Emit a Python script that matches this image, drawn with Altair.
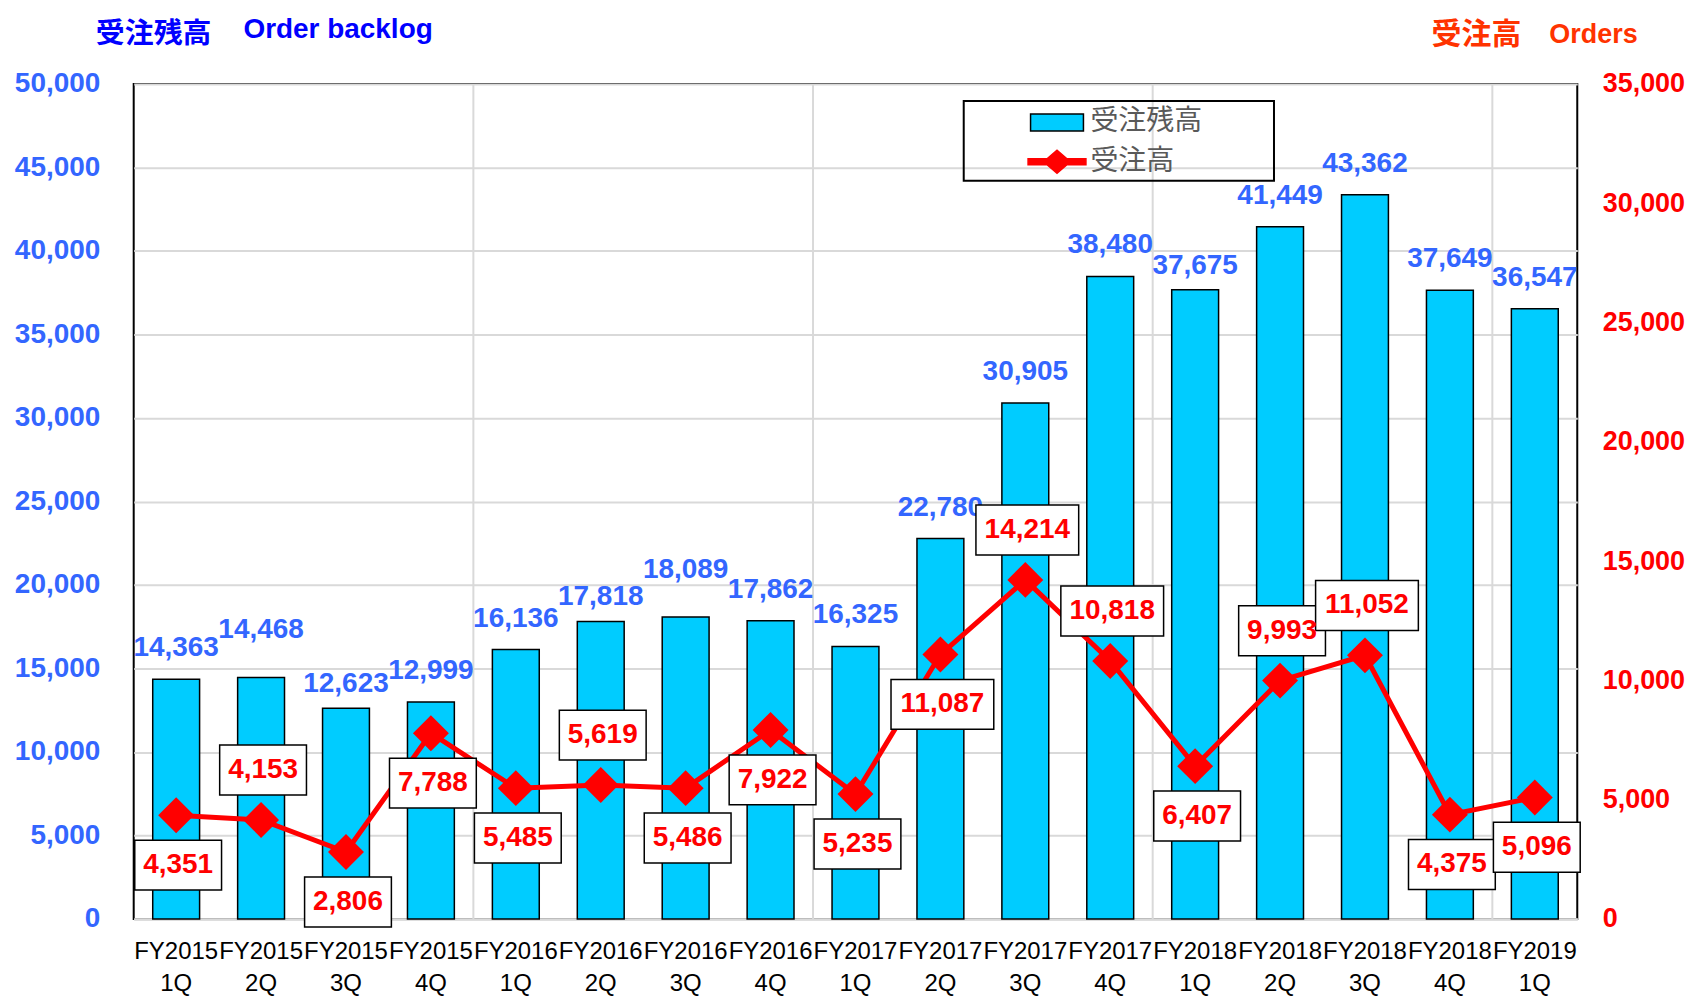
import altair as alt
import pandas as pd

# ---------------- data ----------------
categories = ["FY2015 1Q", "FY2015 2Q", "FY2015 3Q", "FY2015 4Q",
              "FY2016 1Q", "FY2016 2Q", "FY2016 3Q", "FY2016 4Q",
              "FY2017 1Q", "FY2017 2Q", "FY2017 3Q", "FY2017 4Q",
              "FY2018 1Q", "FY2018 2Q", "FY2018 3Q", "FY2018 4Q",
              "FY2019 1Q"]
backlog = [14363, 14468, 12623, 12999, 16136, 17818, 18089, 17862, 16325,
           22780, 30905, 38480, 37675, 41449, 43362, 37649, 36547]
orders = [4351, 4153, 2806, 7788, 5485, 5619, 5486, 7922, 5235,
          11087, 14214, 10818, 6407, 9993, 11052, 4375, 5096]
# label placement choices (layout, not data)
order_label_side = ["below", "above", "below", "below", "below", "above",
                    "below", "below", "below", "below", "above", "above",
                    "below", "above", "above", "below", "below"]
backlog_label_raised = ["FY2015 2Q", "FY2016 3Q"]
backlog_label_lowered = ["FY2015 3Q", "FY2016 2Q", "FY2018 1Q"]
left_ticks = [0, 5000, 10000, 15000, 20000, 25000, 30000, 35000, 40000, 45000, 50000]
right_ticks = [0, 5000, 10000, 15000, 20000, 25000, 30000, 35000]
series_names = ["受注残高", "受注高"]
left_heading = ["受注残高", "Order backlog"]
right_heading = ["受注高", "Orders"]

df = pd.DataFrame({"cat": categories, "backlog": backlog, "orders": orders,
                   "side": order_label_side})
df["lift"] = "normal"
df.loc[df["cat"].isin(backlog_label_raised), "lift"] = "raised"
df.loc[df["cat"].isin(backlog_label_lowered), "lift"] = "lowered"

# ---------------- layout constants ----------------
W, H = 1447, 837
STEP = W / len(categories)
NUM_FONT = "Liberation Sans"
CJK_FONT = "Noto Sans CJK JP"

x_enc = alt.X(
    "cat:N", sort=categories, title=None,
    scale=alt.Scale(paddingInner=0.448, paddingOuter=0.224),
    axis=alt.Axis(labelExpr="split(datum.label, ' ')", labelAngle=0,
                  labelFont=NUM_FONT, labelFontSize=24, labelColor="#000000",
                  labelLineHeight=32, labelPadding=21, ticks=False,
                  domainColor="#D9D9D9", domainWidth=2.5, labelOverlap=False,
                  grid=False),
)

y_left = alt.Y(
    "backlog:Q", scale=alt.Scale(domain=[0, 50000]),
    axis=alt.Axis(values=left_ticks, format=",.0f", labelFont=NUM_FONT,
                  labelFontSize=28, labelFontWeight="bold", labelColor="#3366FF",
                  labelPadding=34, ticks=False, domain=False, grid=True,
                  gridColor="#D9D9D9", gridWidth=2, title=None),
)

y_right = alt.Y(
    "orders:Q", scale=alt.Scale(domain=[0, 35000]),
    axis=alt.Axis(orient="right", values=right_ticks, format=",.0f",
                  labelFont=NUM_FONT, labelFontSize=27, labelFontWeight="bold",
                  labelColor="#FF0000", labelPadding=25, ticks=False,
                  domain=False, grid=False, title=None),
)

# ---------------- left (backlog) layers ----------------
vgrid = (
    alt.Chart(df)
    .transform_window(idx="row_number()")
    .transform_filter("datum.idx > 1 && slice(datum.cat, -2) == '1Q'")
    .mark_rule(color="#D9D9D9", strokeWidth=2, xOffset=-STEP / 2)
    .encode(x=x_enc)
)

bars = alt.Chart(df).mark_bar(color="#00CCFF", stroke="#000000",
                              strokeWidth=1.5).encode(x=x_enc, y=y_left)

bar_text_layers = []
for lift, dy in [("normal", -31), ("raised", -47), ("lowered", -24)]:
    bar_text_layers.append(
        alt.Chart(df)
        .transform_filter(f"datum.lift == '{lift}'")
        .mark_text(dy=dy, baseline="middle", font=NUM_FONT, fontSize=28,
                   fontWeight="bold", color="#3366FF")
        .encode(x=x_enc, y=y_left, text=alt.Text("backlog:Q", format=","))
    )

left = alt.layer(vgrid, bars, *bar_text_layers)

# ---------------- right (orders) layers ----------------
line = alt.Chart(df).mark_line(color="#FF0000", strokeWidth=5).encode(x=x_enc, y=y_right)
points = alt.Chart(df).mark_point(shape="diamond", filled=True, size=1296,
                                  color="#FF0000", opacity=1).encode(x=x_enc, y=y_right)

box_paths = {5: "M-0.87,-0.5H0.87V0.5H-0.87Z", 6: "M-1.03,-0.5H1.03V0.5H-1.03Z"}
offsets = {"above": -50, "below": 50}

box_layers = []
text_layers = []
for side, off in offsets.items():
    for nchar, path in box_paths.items():
        box_layers.append(
            alt.Chart(df)
            .transform_calculate(n="length(format(datum.orders, ','))")
            .transform_filter(f"datum.side == '{side}' && datum.n == {nchar}")
            .mark_point(shape=path, filled=True, fill="#FFFFFF", stroke="#000000",
                        strokeWidth=1.5, opacity=1, size=10000, yOffset=off, xOffset=2)
            .encode(x=x_enc, y=y_right)
        )
    text_layers.append(
        alt.Chart(df)
        .transform_filter(f"datum.side == '{side}'")
        .mark_text(dy=off, dx=2, baseline="middle", font=NUM_FONT, fontSize=28,
                   fontWeight="bold", color="#FF0000")
        .encode(x=x_enc, y=y_right, text=alt.Text("orders:Q", format=","))
    )

# legend
rect_path = "M-1.767,-0.567H1.767V0.567H-1.767Z"
line_diamond_path = ("M-1.933,-0.2H-0.665L0,-0.767L0.665,-0.2H1.933V0.2H0.665"
                     "L0,0.767L-0.665,0.2H-1.933Z")
leg = alt.Legend(orient="none", legendX=909.5, legendY=22.5, title=None,
                 labelFont=CJK_FONT, labelFontSize=28, labelColor="#595959",
                 symbolSize=900, symbolStrokeWidth=1.5, labelOffset=17.5,
                 rowPadding=9.5, padding=0, symbolOpacity=1, labelLimit=300)
legend_layer = alt.Chart(pd.DataFrame({"series": series_names})).mark_point(
    filled=True, opacity=0
).encode(
    fill=alt.Fill("series:N", scale=alt.Scale(domain=series_names,
                                              range=["#00CCFF", "#FF0000"]), legend=leg),
    stroke=alt.Stroke("series:N", scale=alt.Scale(domain=series_names,
                                                  range=["#000000", "#FF0000"]), legend=leg),
    shape=alt.Shape("series:N", scale=alt.Scale(domain=series_names,
                                                range=[rect_path, line_diamond_path]), legend=leg),
)

frame = alt.Chart(pd.DataFrame({"k": [0]})).mark_rect(
    filled=False, stroke="#000000", strokeWidth=2
).encode(x=alt.value(832), x2=alt.value(1143), y=alt.value(17), y2=alt.value(97))

# axis headings (CJK part and Latin part)
head_df = pd.DataFrame({"k": [0]})


def heading(text, font, size, color, x, y):
    return alt.Chart(head_df).mark_text(
        text=text, align="left", baseline="alphabetic", font=font,
        fontSize=size, fontWeight="bold", color=color
    ).encode(x=alt.value(x), y=alt.value(y))


headings = [
    heading(left_heading[0], CJK_FONT, 29, "#0000FF", -38, -41),
    heading(left_heading[1], NUM_FONT, 28, "#0000FF", 110, -46),
    heading(right_heading[0], CJK_FONT, 30, "#FF3300", 1301, -40),
    heading(right_heading[1], NUM_FONT, 27, "#FF3300", 1419, -41),
]

right = alt.layer(line, points, *box_layers, *text_layers, frame, legend_layer,
                  *headings)

chart = (
    alt.layer(left, right)
    .resolve_scale(y="independent")
    .properties(width=W, height=H,
                padding={"left": 126, "top": 75, "right": 112, "bottom": 78},
                autosize=alt.AutoSizeParams(type="none"))
    .configure(background="#FFFFFF")
    .configure_view(stroke="#000000", strokeWidth=2, fill="#FFFF99")
)

chart.save("out.html", embed_options={"renderer": "svg", "actions": False})
